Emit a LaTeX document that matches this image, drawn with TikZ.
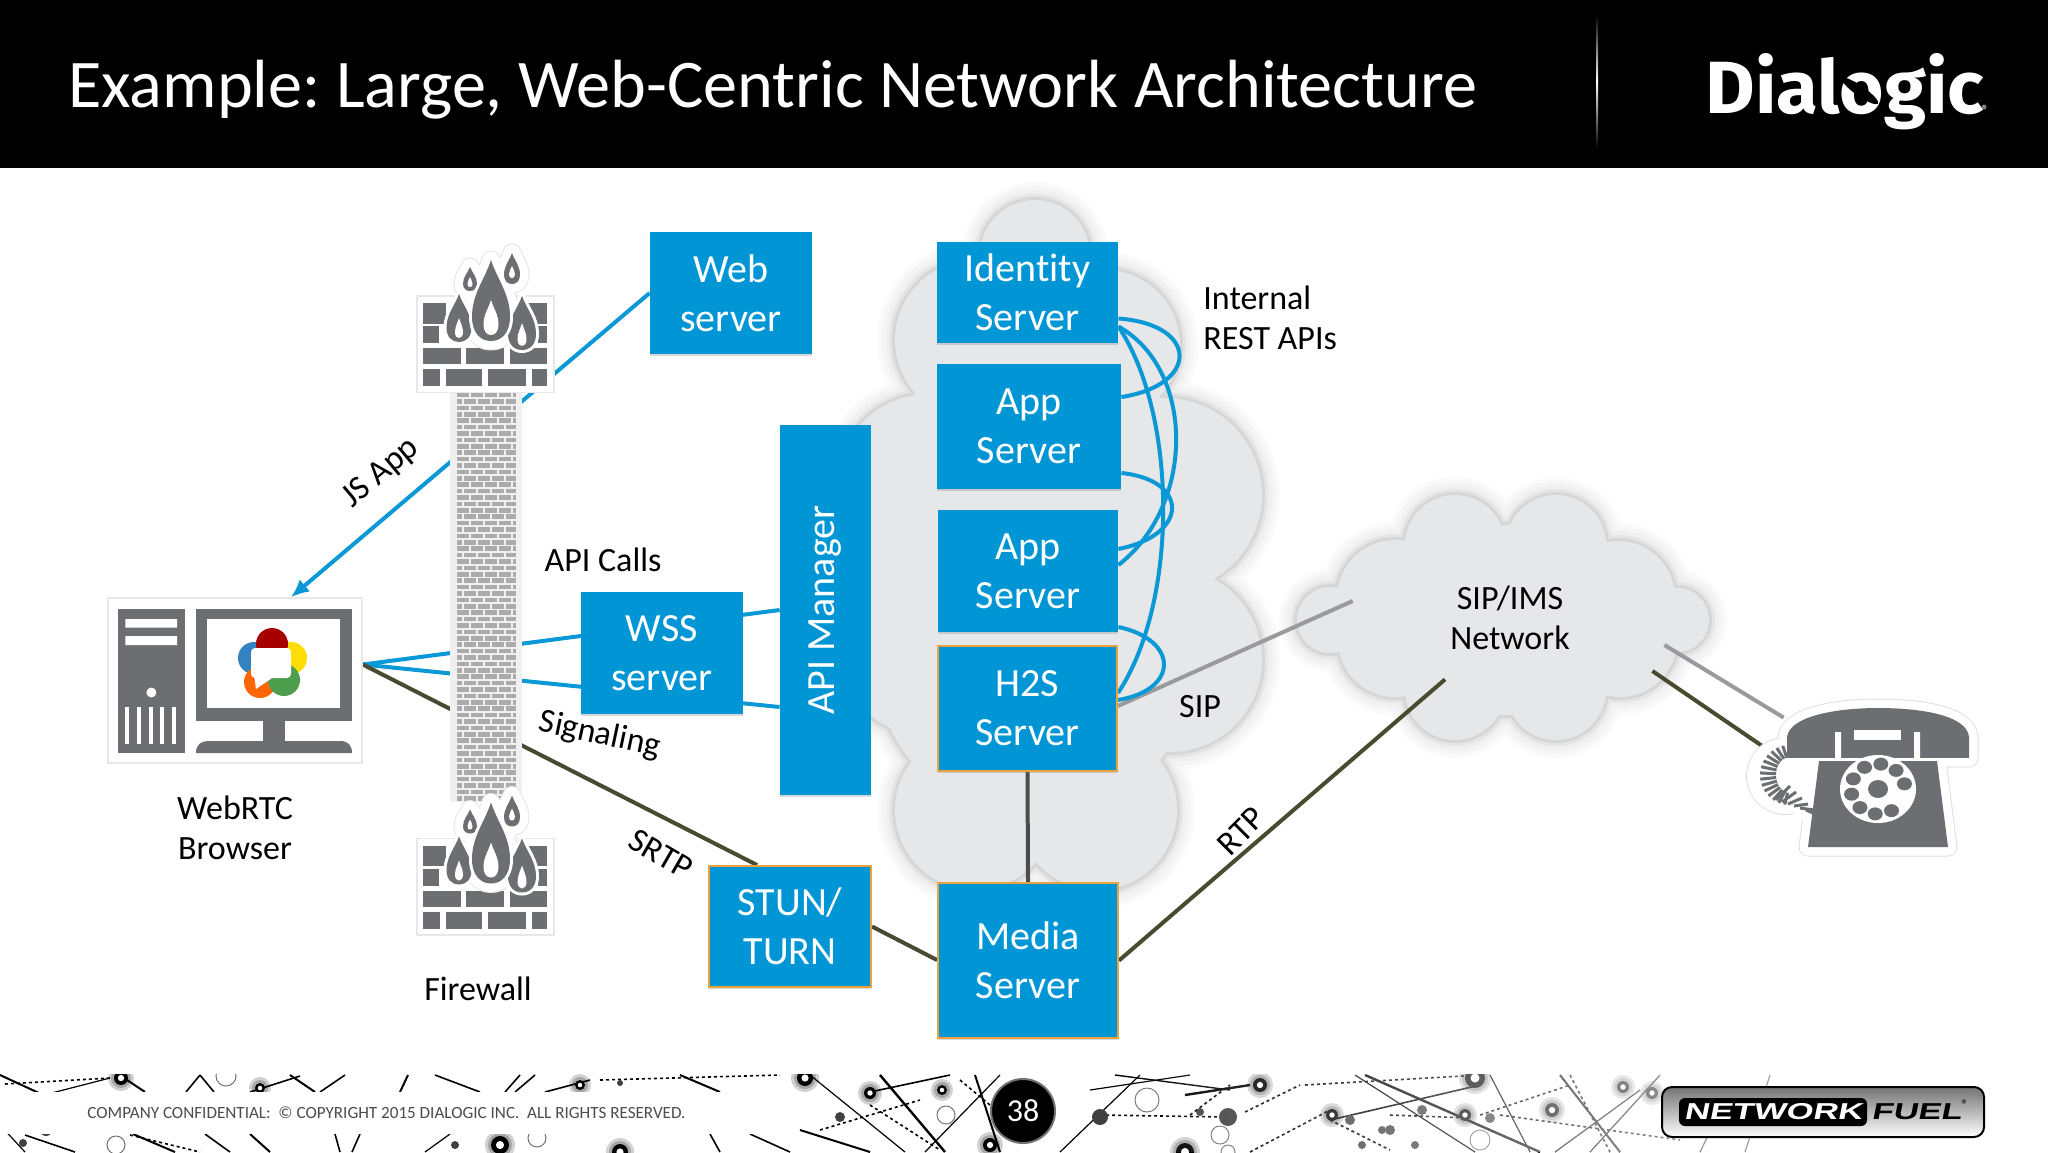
\documentclass[tikz,border=0pt]{standalone}
\usepackage{graphicx}
\usepackage{fontspec}
\setmainfont[Ligatures=NoCommon]{Carlito}
\newfontfamily\logofont[FakeStretch=1.03]{Fira Sans}
\newfontfamily\fuelfont[FakeSlant=0.2,FakeStretch=1.5]{Liberation Sans}
\usetikzlibrary{shadows,fadings,arrows.meta}

\definecolor{boxblue}{HTML}{0096D6}
\definecolor{linkblue}{HTML}{0B98D6}
\definecolor{linkolive}{HTML}{4A4A30}
\definecolor{linkgray}{HTML}{9A9A9E}
\definecolor{icongray}{HTML}{6D6E71}
\definecolor{cloudgray}{HTML}{E6E7E8}
\definecolor{edgeorange}{HTML}{E8A33D}

\pgfdeclarelayer{clouds}
\pgfdeclarelayer{links}
\pgfsetlayers{clouds,links,main}

\tikzfading[name=fadefoot, left color=transparent!100, right color=transparent!8]

\tikzset{
    box/.style={rectangle, fill=boxblue, text=white, align=center, inner sep=0pt,
        font=\fontsize{20}{24.5}\selectfont, execute at begin node={\rule{0pt}{14pt}},
        drop shadow={shadow xshift=0pt, shadow yshift=-1pt, opacity=.3}},
    edgebox/.style={box, draw=edgeorange, line width=1pt},
    lbl/.style={align=center, inner sep=0pt, font=\fontsize{17}{20.3}\selectfont},
    bluelink/.style={linkblue, line width=2pt},
    olivelink/.style={linkolive, line width=2pt},
    graylink/.style={linkgray, line width=2pt},
    brickrow/.style={black!33, line width=2.3pt, dash pattern=on 6pt off 1pt},
    iconback/.style={fill=white, draw=black!9, line width=.8pt, inner sep=0pt},
    halo/.style={line join=round, draw=black!12, line width=9.5pt},
    halotop/.style={line join=round, draw=white, line width=8.5pt},
    firewall/.pic={
        \fill[white, draw=black!9, line width=.8pt] (0,0) rectangle (137,96.5);
        \foreach \xa/\ya/\xb/\yb in {6.4/7/28.6/27.5, 105/7/130/27.5, 6.4/30/22/47, 121/30/130/47,
                6.4/52/43.5/68, 49/52/87/68, 93/52/130/68,
                6.4/73/22.5/90.4, 28.6/73/65/90.4, 71.4/73/109/90.4, 115/73/130/90.4}
            \fill[icongray] (\xa,\ya) rectangle (\xb,\yb);
        \foreach \fx/\ftip/\fbase/\fw in {53/-29/-5/7, 95/-43/-12/8, 74/-36/45/19}
            \draw[black!10, line width=9.5pt, line join=round] \flame{\fx}{\ftip}{\fbase}{\fw};
        \foreach \fx/\ftip/\fbase/\fw in {53/-29/-5/7, 95/-43/-12/8, 74/-36/45/19}
            \draw[white, line width=8.5pt, line join=round] \flame{\fx}{\ftip}{\fbase}{\fw};
        \foreach \fx/\ftip/\fbase/\fw in {53/-29/-5/7, 95/-43/-12/8, 42/-2/46/12.5, 105/0/54/14, 74/-36/45/19} {
            \draw[white, line width=3pt, line join=round] \flame{\fx}{\ftip}{\fbase}{\fw};
            \fill[icongray] \flame{\fx}{\ftip}{\fbase}{\fw};
        }
        \foreach \fx/\ftip/\fbase/\fw in {53/-19/-9/2.5, 95/-30/-18/3, 42/22/42/4, 105/27/50/4.5, 74/4/39/7.5}
            \fill[white] \flame{\fx}{\ftip}{\fbase}{\fw};
    }
}

% teardrop: x, y of tip, y of base, half width
\newcommand{\flame}[4]{(#1,#2)
    .. controls ({#1+.35*#4},{#2+.25*(#3-#2)}) and ({#1+#4},{#2+.42*(#3-#2)}) .. ({#1+#4},{#2+.7*(#3-#2)})
    .. controls ({#1+#4},{#2+.9*(#3-#2)}) and ({#1+.55*#4},#3) .. (#1,#3)
    .. controls ({#1-.55*#4},#3) and ({#1-#4},{#2+.9*(#3-#2)}) .. ({#1-#4},{#2+.7*(#3-#2)})
    .. controls ({#1-#4},{#2+.42*(#3-#2)}) and ({#1-.35*#4},{#2+.25*(#3-#2)}) .. (#1,#2) -- cycle}

\def\maincloud{1035/255/55, 975/340/80, 1105/345/75, 1165/495/97, 1170/660/92, 1097/810/80,
    975/810/80, 925/480/85, 925/650/85, 930/565/90, 1035/500/160, 1035/660/160}
\def\sipcloud{1330/620/33, 1395/598/58, 1455/545/50, 1556/545/50, 1618/598/57, 1677/620/32,
    1620/640/57, 1556/690/50, 1455/690/50, 1395/640/57, 1505/620/95}

\newcommand{\cloudlayer}[3]{%
    \foreach \cx/\cy/\cr in #1 \fill[#3] (\cx,\cy) circle[radius=\cr+#2];}

\def\phonedome{(1787,758) -- (1787,737) .. controls (1790,715) and (1840,708) .. (1878,708)
    .. controls (1920,708) and (1967,715) .. (1969,737) -- (1969,758) -- cycle}
\def\phonebody{(1819,761) -- (1937,761) -- (1948,847) -- (1808,847) -- cycle}

\begin{document}
\frenchspacing
\begin{tikzpicture}[x=.5pt, y=-.5pt]
    \useasboundingbox (0,0) rectangle (2048,1152);

    % header
    \fill[black] (0,0) rectangle (2048,168);
    \node[anchor=base west, text=white, inner sep=0pt, font=\fontsize{34.1}{40}\selectfont] (title) at (68,107)
        {Example: Large, Web-Centric Network Architecture};
    \shade[top color=black, bottom color=black, middle color=white] (1596.5,15) rectangle (1598,148);
    \node[anchor=base west, text=white, inner sep=0pt, font=\fontsize{37}{40}\logofont\bfseries] (dialogic) at (1705,113) {Dialogic};
    \fill[black, rotate around={-35:(1860,91)}] (1860,91) ellipse[x radius=22, y radius=5];
    \fill[black!50] (1984,107) circle[radius=2.5];

    % clouds
    \begin{pgfonlayer}{clouds}
    \foreach \grow/\tone in {18/2,14/4,10/6,6/10,3/16} {
        \cloudlayer{\maincloud}{\grow}{black!\tone}
        \cloudlayer{\sipcloud}{\grow}{black!\tone}
    }
    \cloudlayer{\maincloud}{0}{cloudgray}
    \cloudlayer{\sipcloud}{0}{cloudgray}
    \end{pgfonlayer}
    \node[inner sep=0pt, minimum width=209pt, minimum height=127pt] (cloudsip) at (1503,617) {};

    % boxes
    \node[box, minimum width=81pt, minimum height=61pt] (web) at (731,293) {Web\\server};
    \node[box, minimum width=81pt, minimum height=61pt] (wss) at (662,653) {WSS\\server};
    \node[box, minimum width=45.5pt, minimum height=185pt] (api) at (825.5,610) {\rotatebox{90}{API Manager}};
    \node[box, minimum width=90.5pt, minimum height=50.5pt] (ident) at (1027.5,292.5) {Identity\\Server};
    \node[box, minimum width=92pt, minimum height=62.5pt] (appa) at (1029,426.5) {App\\Server};
    \node[box, minimum width=90pt, minimum height=61pt] (appb) at (1028,571) {App\\Server};
    \node[edgebox, minimum width=89.5pt, minimum height=62.5pt] (h2s) at (1027.5,708.5) {H2S\\Server};
    \node[edgebox, minimum width=90pt, minimum height=77.5pt] (media) at (1028,960.5) {Media\\Server};
    \node[edgebox, minimum width=81pt, minimum height=60.5pt] (stun) at (790,926.5) {STUN/\\TURN};
    \node[iconback, minimum width=127pt, minimum height=82.5pt] (browser) at (235,680.5) {};
    \node[inner sep=0pt, minimum width=113.5pt, minimum height=77.5pt] (phone) at (1861.5,777.5) {};

    % links
    \begin{pgfonlayer}{links}
    \draw[bluelink, -{Latex[length=9pt,width=8pt]}] (web.west) -- ([xshift=28pt]browser.north);
    \draw[bluelink] ([yshift=8pt]browser.east) -- (api.west);
    \draw[bluelink] ([yshift=8pt]browser.east) -- ([yshift=-48.5pt]api.west);
    \draw[olivelink] ([yshift=8pt]browser.east) -- ([xshift=-16.5pt]stun.north);
    \draw[olivelink] (stun.east) -- ([yshift=.25pt]media.west);
    \draw[black!70, line width=2pt] (h2s.south) -- (media.north);
    \draw[olivelink] (media.east) -- ([xshift=-29pt,yshift=32.5pt]cloudsip.south);
    \draw[graylink] ([yshift=1.25pt]h2s.east) -- ([xshift=29.5pt,yshift=8pt]cloudsip.west);
    \draw[graylink] ([xshift=-24pt,yshift=-14pt]cloudsip.east) -- ([xshift=18pt,yshift=-9pt]phone.north west);
    \draw[olivelink] ([xshift=-30pt,yshift=-27pt]cloudsip.east) -- ([xshift=7pt,yshift=-23pt]phone.north west);
    % internal rest apis
    \draw[bluelink] ([yshift=-13pt]ident.east) .. controls +(81,6) and +(78,-12) .. ([yshift=14.75pt]appa.east);
    \draw[bluelink] ([yshift=-17pt]ident.east) .. controls +(77,43) and +(77,-60) .. ([yshift=3pt]appb.east);
    \draw[bluelink] ([yshift=-17pt]ident.east) .. controls +(60,90) and +(60,-90) .. ([yshift=7.75pt]h2s.east);
    \draw[bluelink] ([yshift=-23.25pt]appa.east) .. controls +(68,7) and +(71,-14) .. ([yshift=11pt]appb.east);
    \draw[bluelink] ([yshift=-28pt]appb.east) .. controls +(61,13) and +(61,-10) .. ([yshift=4.25pt]h2s.east);
    \end{pgfonlayer}

    % firewall
    \node[fill=black!6, inner sep=0pt, minimum width=36pt, minimum height=205pt] (wall) at (486,597) {};
    \foreach \row [evaluate=\row as \brickoff using {mod(\row,2)*3.5}] in {0,...,63}
        \draw[brickrow, dash phase=\brickoff pt] (457,{395+6.4*\row}) -- (516,{395+6.4*\row});
    \pic (fwtop) at (417,296) {firewall};
    \pic (fwbot) at (417,838.5) {firewall};

    % browser icon
    \fill[icongray] (117.5,608.6) rectangle (185,753);
    \fill[white] (125.4,619) rectangle (177,627.5) (125.4,636) rectangle (177,645);
    \fill[white] (151.4,692.5) circle[radius=5];
    \foreach \vx in {127,139,150.5,162,174}
        \fill[white] (\vx-2,707) rectangle (\vx+2,744);
    \fill[icongray] (196.4,608.6) rectangle (352,721);
    \fill[white] (207,619) rectangle (340,708);
    \fill[icongray] (262.5,721) rectangle (284.6,741);
    \fill[icongray] (196,753) .. controls (196,745) and (200,741) .. (210,741) -- (340,741)
        .. controls (348,741) and (352,745) .. (352,753) -- cycle;
    % webrtc mark
    \fill[yellow!80!orange] (291,658) circle[radius=16];
    \fill[blue!45!cyan!70!black!80] (254,658) circle[radius=16];
    \fill[orange!80!red] (260,682) circle[radius=16];
    \fill[green!45!black!70] (284,680) circle[radius=16];
    \fill[red!65!black] (272,644) circle[radius=16];
    \fill[white, rounded corners=2pt] (251,648) rectangle (291,678);
    \fill[white] (254,675) -- (256,689) -- (275,676) -- cycle;

    % phone
    \draw[halo] \phonedome;
    \draw[halo] \phonebody;
    \fill[black!12] (1785,776) circle[radius=39];
    \fill[white] (1785,776) circle[radius=38];
    \draw[halotop] \phonedome;
    \draw[halotop] \phonebody;
    \draw[white, line width=8.5pt, line cap=round] (1790,800) -- (1806,812);
    \fill[icongray] \phonedome;
    \fill[icongray] \phonebody;
    \fill[white] (1854,730) rectangle (1901,740);
    \fill[white] (1835,732) rectangle (1841,760) (1914,732) rectangle (1920,760);
    \fill[white] (1787,758) rectangle (1969,761);
    \fill[white] (1878,789) ellipse[x radius=38, y radius=34];
    \fill[icongray] (1878,789) ellipse[x radius=10, y radius=9];
    \foreach \a in {60,96,...,348}
        \fill[icongray] ({1878+27*cos(\a)},{789+25*sin(\a)}) ellipse[x radius=7.5, y radius=6.5];
    \foreach \a in {100,112,...,270}
        \draw[icongray, line width=1.5pt] ({1790+14*cos(\a)},{775+18*sin(\a)}) -- ({1790+30*cos(\a)},{775+30*sin(\a)});
    \foreach \t in {0,1,...,5}
        \draw[icongray, line width=1.5pt] ({1776+6*\t},{800+2*\t}) -- ({1790+6*\t},{786+6*\t});

    % labels
    \node[lbl, rotate=40] (jsapp) at (381,473) {JS App};
    \node[lbl] (apicalls) at (603,560) {API Calls};
    \node[lbl, rotate=-12] (signaling) at (600,735) {Signaling};
    \node[lbl, rotate=-30] (srtp) at (661,854) {SRTP};
    \node[lbl, rotate=45] (rtp) at (1241,831) {RTP};
    \node[lbl] (sip) at (1200,707) {SIP};
    \node[lbl, align=left, anchor=west] (rest) at (1203,318) {Internal\\REST APIs};
    \node[lbl] (webrtc) at (235,828) {WebRTC\\Browser};
    \node[lbl] (fwlabel) at (478,989) {Firewall};
    \node[lbl] (sipims) at (1510,618) {SIP/IMS\\Network};

    % footer
    \begin{scope}
        \clip (0,1074) rectangle (2048,1152);
        \foreach \dx/\dy/\dr in {121/1078/7, 260/1088/5, 580/1085/5, 805/1078/8, 870/1093/6, 942/1090/5, 990/1145/7,
                500/1145/9, 620/1152/8, 1260/1085/7, 1332/1115/6, 1475/1078/10, 1552/1110/7, 1465/1115/6, 1185/1152/9, 1652/1093/6, 1623/1087/6} {
            \fill[black!18] (\dx,\dy) circle[radius=\dr+6];
            \fill[black!35] (\dx,\dy) circle[radius=\dr+3];
        }
        \foreach \xa/\ya/\xb/\yb/\lw in {0/1075/65/1105/1, 5/1105/110/1078/.6, 121/1076/145/1092/1, 186/1092/200/1075/.8,
                214/1092/200/1075/.8, 250/1092/300/1076/.8, 290/1075/315/1092/1, 320/1092/345/1075/.8, 400/1092/408/1075/1,
                435/1075/480/1092/.8, 505/1092/520/1075/.8, 515/1092/535/1075/.8, 545/1092/590/1080/.8, 680/1075/720/1092/1,
                133/1134/175/1152/1, 205/1134/230/1152/.8, 250/1134/270/1152/1, 335/1134/340/1152/.8, 360/1134/352/1152/.8,
                425/1152/450/1134/.6, 710/1134/720/1152/.8, 750/1134/790/1152/.8, 0/1125/25/1152/.6, 25/1135/75/1152/.8,
                810/1075/905/1152/.6, 880/1075/945/1152/1.2, 925/1152/1000/1075/.6, 870/1092/950/1075/.8, 975/1075/1000/1152/1,
                800/1130/870/1152/1, 1090/1090/1190/1075/.6, 1115/1075/1230/1090/.7, 1185/1095/1250/1085/1.2, 1060/1152/1140/1075/.6,
                1355/1075/1475/1152/.6, 1365/1075/1540/1152/1.2, 1330/1120/1480/1085/.8, 1490/1075/1530/1152/.6,
                1560/1075/1620/1152/1, 1555/1152/1640/1090/.6, 1590/1152/1660/1075/.6, 1730/1090/1700/1152/.6, 1770/1075/1745/1152/.6}
            \draw[black, line width=\lw pt] (\xa,\ya) -- (\xb,\yb);
        \foreach \xa/\ya/\xb/\yb in {5/1084/110/1078, 600/1080/780/1075, 10/1115/65/1117, 130/1135/200/1152, 820/1130/920/1100,
                870/1105/940/1150, 960/1080/1020/1130, 1190/1115/1230/1085, 1100/1115/1225/1117, 1245/1112/1300/1085,
                1305/1085/1480/1075, 1250/1152/1330/1110, 1390/1115/1470/1118, 1330/1120/1390/1150, 1480/1115/1570/1085,
                1500/1115/1680/1140, 1570/1075/1610/1152}
            \draw[black, line width=.8pt, dash pattern=on 1.5pt off 1.5pt] (\xa,\ya) -- (\xb,\yb);
        \foreach \dx/\dy/\dr in {121/1078/7, 260/1088/5, 580/1085/5, 805/1078/8, 870/1093/6, 942/1090/5, 990/1145/7,
                500/1145/9, 620/1152/8, 1260/1085/7, 1332/1115/6, 1475/1078/10, 1552/1110/7, 1465/1115/6, 1185/1152/9, 1652/1093/6, 1623/1087/6} {
            \fill[black] (\dx,\dy) circle[radius=\dr];
            \fill[white] (\dx,\dy) circle[radius=.45*\dr];
        }
        \foreach \dx/\dy/\dr in {620/1083/3, 23/1143/4, 46/1130/6, 840/1117/5, 455/1145/4, 1228/1117/9, 1200/1112/4, 1100/1117/8,
                1362/1145/4, 1382/1130/4, 1350/1120/5, 1422/1110/5, 1415/1145/4, 1490/1118/5, 1390/1130/5}
            \fill[black!75] (\dx,\dy) circle[radius=\dr];
        \foreach \dx/\dy/\dr in {116/1145/9, 226/1076/10, 946/1115/9, 537/1138/9, 1228/1152/7, 1220/1135/9, 1147/1100/12, 1480/1140/10, 1720/1100/10}
            \draw[black!55, line width=.5pt] (\dx,\dy) circle[radius=\dr];
        \fill[white] (0,1092) rectangle (790,1134);
    \end{scope}
    \fill[white, path fading=fadefoot] (1100,1074) rectangle (2048,1152);
    \node[anchor=west, text=black!70, inner sep=0pt, font=\fontsize{8.55}{10}\selectfont] (legal) at (87,1113)
        {COMPANY CONFIDENTIAL:\ \ © COPYRIGHT 2015 DIALOGIC INC.\ \ ALL RIGHTS RESERVED.};
    \node[circle, fill=black, draw=black!55, line width=1pt, text=white, minimum size=32pt, inner sep=0pt, font=\fontsize{16}{18}\selectfont] (pageno) at (1023,1111) {38};
    \shade[draw=black, line width=1pt, rounded corners=5pt, top color=black!55, bottom color=white] (1662,1087) rectangle (1984,1137);
    \node[fill=black, rounded corners=3pt, text=white, minimum width=94pt, minimum height=14pt, inner sep=0pt,
        font=\fontsize{11.5}{12}\fuelfont\bfseries] (netname) at (1773,1112) {NETWORK};
    \node[anchor=west, inner sep=0pt, font=\fontsize{11.5}{12}\fuelfont\bfseries] (fuelname) at (1871,1112) {FUEL};
    \node[inner sep=0pt, font=\fontsize{7}{8}\selectfont] (regmark) at (1965,1105) {®};
\end{tikzpicture}
\end{document}
